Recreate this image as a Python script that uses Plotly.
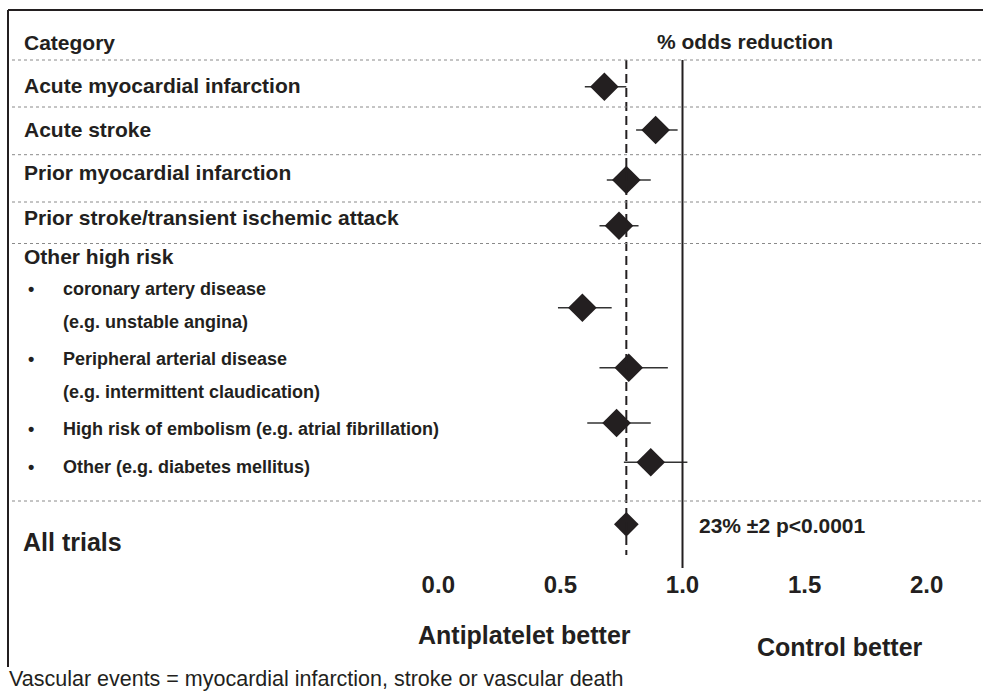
import plotly.graph_objects as go

# ---- data -------------------------------------------------------------
categories = [
    "Acute myocardial infarction",
    "Acute stroke",
    "Prior myocardial infarction",
    "Prior stroke/transient ischemic attack",
    "coronary artery disease (e.g. unstable angina)",
    "Peripheral arterial disease (e.g. intermittent claudication)",
    "High risk of embolism (e.g. atrial fibrillation)",
    "Other (e.g. diabetes mellitus)",
]
odds_ratio = [0.68, 0.89, 0.77, 0.74, 0.59, 0.78, 0.73, 0.87]
ci_low = [0.60, 0.81, 0.69, 0.66, 0.49, 0.66, 0.61, 0.76]
ci_high = [0.77, 0.98, 0.87, 0.82, 0.71, 0.94, 0.87, 1.02]

overall_reduction_pct = 23
overall_se_pct = 2
overall_p = "p<0.0001"
overall_ratio = 1 - overall_reduction_pct / 100

tick_vals = [0.0, 0.5, 1.0, 1.5, 2.0]
tick_text = ["0.0", "0.5", "1.0", "1.5", "2.0"]

# ---- layout constants (pixel rows of the figure) ------------------------
W, H = 983, 692
row_y = [86.7, 130, 180, 225.7, 307.7, 367.7, 423, 462.3]
overall_y = 524.3
axis_bottom = 568
ref_top = 60
separators = [60, 107, 154.7, 202, 243.5, 501]
INK = "#231f20"
FONT = "Liberation Sans, Arial, Helvetica, sans-serif"

fig = go.Figure()

# subgroup estimates with confidence intervals
fig.add_trace(go.Scatter(
    x=odds_ratio, y=row_y, mode="markers",
    marker=dict(symbol="diamond", size=22, color=INK, line=dict(width=0)),
    error_x=dict(type="data", symmetric=False,
                 array=[h - v for h, v in zip(ci_high, odds_ratio)],
                 arrayminus=[v - l for l, v in zip(ci_low, odds_ratio)],
                 color="#333333", thickness=1.6, width=0),
    hoverinfo="skip", showlegend=False, cliponaxis=False,
))

# pooled estimate
fig.add_trace(go.Scatter(
    x=[overall_ratio], y=[overall_y], mode="markers",
    marker=dict(symbol="diamond", size=19, color=INK),
    hoverinfo="skip", showlegend=False,
))

shapes = []
# line of no effect and pooled-effect line
shapes.append(dict(type="line", xref="x", yref="y", x0=1.0, x1=1.0,
                   y0=ref_top, y1=axis_bottom, line=dict(color=INK, width=2)))
shapes.append(dict(type="line", xref="x", yref="y", x0=overall_ratio, x1=overall_ratio,
                   y0=ref_top, y1=555, line=dict(color=INK, width=2, dash="9px,5px")))
# dotted row separators
for yy in separators:
    shapes.append(dict(type="line", xref="paper", yref="y", x0=12 / W, x1=1,
                       y0=yy, y1=yy, line=dict(color="#8a8a8a", width=1, dash="dot")))
# frame (top and left edges)
shapes.append(dict(type="line", xref="paper", yref="y", x0=8 / W, x1=1.01, y0=10, y1=10,
                   line=dict(color=INK, width=2)))
shapes.append(dict(type="line", xref="paper", yref="y", x0=8 / W, x1=8 / W, y0=10, y1=667,
                   line=dict(color=INK, width=2)))

annotations = []


def label(text, x, y, size, bold=True, anchor="left"):
    annotations.append(dict(
        text=f"<b>{text}</b>" if bold else text, x=x / W, y=y, xref="paper", yref="y",
        xanchor=anchor, yanchor="middle", showarrow=False,
        font=dict(family=FONT, size=size, color=INK)))


label("Category", 22, 42, 21)
label("% odds reduction", 745, 41, 21, anchor="center")
label(categories[0], 22, 85, 21)
label(categories[1], 22, 129, 21)
label(categories[2], 22, 172, 21)
label(categories[3], 22, 217, 21)
label("Other high risk", 22, 256, 21)

sub_lines = [
    ("coronary artery disease", 289, True),
    ("(e.g. unstable angina)", 322, False),
    ("Peripheral arterial disease", 359, True),
    ("(e.g. intermittent claudication)", 392, False),
    ("High risk of embolism (e.g. atrial fibrillation)", 429, True),
    ("Other (e.g. diabetes mellitus)", 467, True),
]
for text, yy, bullet in sub_lines:
    if bullet:
        label("•", 26, yy, 18)
    label(text, 61, yy, 18)

label("All trials", 21, 541.7, 25)
label(f"{overall_reduction_pct}% ±{overall_se_pct} {overall_p}", 697, 525, 21)
label("Antiplatelet better", 524, 635, 25, anchor="center")
label("Control better", 840, 647, 25, anchor="center")
label("Vascular events = myocardial infarction, stroke or vascular death", 7, 679, 21.5,
      bold=False)

# x scale: 1.0 sits at ~682 px, 244 px per unit
x0_px, px_per_unit = 438.3, 244.2
fig.update_layout(
    width=W, height=H,
    margin=dict(l=0, r=0, t=0, b=0),
    paper_bgcolor="white", plot_bgcolor="white",
    xaxis=dict(range=[-x0_px / px_per_unit, (W - x0_px) / px_per_unit],
               domain=[0, 1], anchor="free", position=1 - axis_bottom / H,
               tickvals=tick_vals, ticktext=[f"<b>{t}</b>" for t in tick_text],
               tickfont=dict(family=FONT, size=24, color=INK),
               showgrid=False, zeroline=False, showline=False, ticks=""),
    yaxis=dict(range=[H, 0], domain=[0, 1], visible=False, showgrid=False,
               zeroline=False),
    shapes=shapes, annotations=annotations,
)

fig.write_html("out.html", config={"displayModeBar": False})
